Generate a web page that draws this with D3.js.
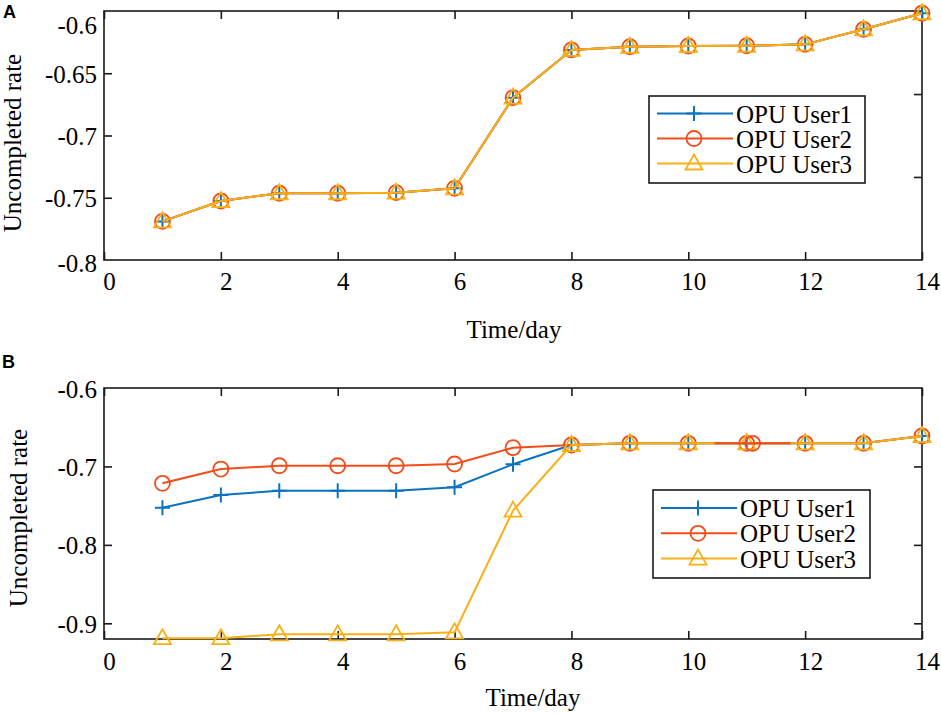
<!DOCTYPE html>
<html>
<head>
<meta charset="utf-8">
<script src="https://cdn.jsdelivr.net/npm/d3@7/dist/d3.min.js"></script>
<style>
  html, body { margin: 0; padding: 0; background: #fff; }
  svg { display: block; }
</style>
</head>
<body>
<svg id="chart" width="941" height="714"></svg>
<script>
// ---------------- DATA ----------------
const days = [1, 2, 3, 4, 5, 6, 7, 8, 9, 10, 11, 12, 13, 14];
const xTicks = [0, 2, 4, 6, 8, 10, 12, 14];
const seriesNames = ["OPU User1", "OPU User2", "OPU User3"];

// Panel A (all three users coincide)
const aUser1 = [-0.769, -0.7526, -0.7464, -0.7464, -0.7459, -0.7424, -0.6696, -0.6313, -0.6287, -0.6281, -0.6279, -0.6268, -0.6147, -0.6018];
const aUser2 = [-0.769, -0.7526, -0.7464, -0.7464, -0.7459, -0.7424, -0.6696, -0.6313, -0.6287, -0.6281, -0.6279, -0.6268, -0.6147, -0.6018];
const aUser3 = [-0.769, -0.7526, -0.7464, -0.7464, -0.7459, -0.7424, -0.6696, -0.6313, -0.6287, -0.6281, -0.6279, -0.6268, -0.6147, -0.6018];
const aYTicks = [-0.8, -0.75, -0.7, -0.65, -0.6];
const aYTickLabels = ["-0.8", "-0.75", "-0.7", "-0.65", "-0.6"];
const aRightTicks = [-0.7333, -0.6667];
const aYDomain = [-0.8, -0.6];

// Panel B
const bUser1 = [-0.7526, -0.7364, -0.7309, -0.7309, -0.7309, -0.7266, -0.6973, -0.6727, -0.6705, -0.6705, -0.6705, -0.6705, -0.6705, -0.6612];
const bUser2 = [-0.7215, -0.7033, -0.6991, -0.6991, -0.6991, -0.6969, -0.6761, -0.6727, -0.6705, -0.6705, -0.6705, -0.6705, -0.6705, -0.6612];
const bUser3 = [-0.919, -0.919, -0.914, -0.914, -0.914, -0.9115, -0.7564, -0.6727, -0.6705, -0.6705, -0.6705, -0.6705, -0.6705, -0.6612];
const bYTicks = [-0.9, -0.8, -0.7, -0.6];
const bYTickLabels = ["-0.9", "-0.8", "-0.7", "-0.6"];
const bYDomain = [-0.92, -0.6];
// overlapping red fragment visible near day 11 in panel B
const bUser2PatchDays = [10.45, 11.75];
const bUser2PatchValue = -0.6705;
const bUser2ExtraDay = 11.1;

// ---------------- STYLE ----------------
const colors = ["#0b72c0", "#f24c1a", "#f8b016"];
const markers = ["plus", "circle", "triangle"];
const FS = 25;
const SERIF = "'Liberation Serif', 'Times New Roman', serif";

const svg = d3.select("#chart");

function drawMarker(g, type, color) {
  if (type === "plus") {
    g.append("path").attr("d", "M-7.5,0H7.5M0,-7.5V7.5")
      .attr("stroke", color).attr("stroke-width", 2).attr("fill", "none");
  } else if (type === "circle") {
    g.append("circle").attr("r", 7.5)
      .attr("stroke", color).attr("stroke-width", 1.8).attr("fill", "none");
  } else {
    g.append("path").attr("d", "M0,-9L8.5,6L-8.5,6Z")
      .attr("stroke", color).attr("stroke-width", 1.8).attr("fill", "none")
      .attr("stroke-linejoin", "miter");
  }
}

function serifText(sel) {
  return sel.style("font-family", SERIF).style("font-size", FS + "px").style("fill", "#000");
}

function panel(cfg) {
  const x = d3.scaleLinear().domain([0, 14]).range([cfg.left, cfg.right]);
  const y = d3.scaleLinear().domain(cfg.yDomain).range([cfg.bottom, cfg.top]);
  const g = svg.append("g");

  // axes box
  g.append("rect")
    .attr("x", cfg.left).attr("y", cfg.top)
    .attr("width", cfg.right - cfg.left).attr("height", cfg.bottom - cfg.top)
    .attr("fill", "none").attr("stroke", "#1a1a1a").attr("stroke-width", 1.6);

  // bottom axis (inward ticks)
  const bx = g.append("g").attr("transform", `translate(0,${cfg.bottom})`)
    .call(d3.axisBottom(x).tickValues(xTicks).tickSize(-8).tickSizeOuter(0).tickFormat(d3.format("d")));
  bx.select(".domain").remove();
  bx.selectAll("line").attr("stroke", "#1a1a1a").attr("stroke-width", 1.6);
  serifText(bx.selectAll("text"))
    .attr("dy", null).attr("y", cfg.xLabelBaseline - cfg.bottom).attr("dx", 5);

  // top axis
  const tx = g.append("g").attr("transform", `translate(0,${cfg.top})`)
    .call(d3.axisTop(x).tickValues(xTicks).tickSize(-8).tickSizeOuter(0).tickFormat(""));
  tx.select(".domain").remove();
  tx.selectAll("line").attr("stroke", "#1a1a1a").attr("stroke-width", 1.6);

  // left axis
  const ly = g.append("g").attr("transform", `translate(${cfg.left},0)`)
    .call(d3.axisLeft(y).tickValues(cfg.yTicks).tickSize(-8).tickSizeOuter(0)
      .tickFormat((d, i) => cfg.yTickLabels[i]));
  ly.select(".domain").remove();
  ly.selectAll("line").attr("stroke", "#1a1a1a").attr("stroke-width", 1.6)
    .filter(d => d === cfg.yDomain[0] || d === cfg.yDomain[1]).remove();
  serifText(ly.selectAll("text"))
    .attr("x", -7).attr("dy", null)
    .attr("y", d => (cfg.labelShift && cfg.labelShift[d] ? cfg.labelShift[d] : 0) + 9);

  // right axis
  const ry = g.append("g").attr("transform", `translate(${cfg.right},0)`)
    .call(d3.axisRight(y).tickValues(cfg.rightTicks).tickSize(-8).tickSizeOuter(0).tickFormat(""));
  ry.select(".domain").remove();
  ry.selectAll("line").attr("stroke", "#1a1a1a").attr("stroke-width", 1.6);

  // series
  const line = d3.line().x((d, i) => x(days[i])).y(d => y(d));
  cfg.series.forEach((vals, si) => {
    g.append("path").datum(vals).attr("d", line)
      .attr("fill", "none").attr("stroke", colors[si]).attr("stroke-width", 2)
      .attr("stroke-linejoin", "round");
    vals.forEach((v, i) => {
      const mg = g.append("g").attr("transform", `translate(${x(days[i])},${y(v)})`);
      drawMarker(mg, markers[si], colors[si]);
    });
  });

  if (cfg.patch) cfg.patch(g, x, y);

  // legend
  const L = cfg.legend;
  g.append("rect").attr("x", L.x).attr("y", L.y).attr("width", L.w).attr("height", L.h)
    .attr("fill", "#fff").attr("stroke", "#1a1a1a").attr("stroke-width", 1.6);
  seriesNames.forEach((name, i) => {
    const cy = L.y + L.row0 + i * L.rowStep;
    g.append("line").attr("x1", L.x + 8).attr("x2", L.x + 84).attr("y1", cy).attr("y2", cy)
      .attr("stroke", colors[i]).attr("stroke-width", 2);
    const mg = g.append("g").attr("transform", `translate(${L.x + 45},${cy})`);
    drawMarker(mg, markers[i], colors[i]);
    serifText(g.append("text")).attr("x", L.x + 87).attr("y", cy + 9).text(name);
  });

  // axis titles
  serifText(g.append("text")).attr("text-anchor", "middle")
    .attr("x", cfg.xTitleX).attr("y", cfg.xTitleY).text("Time/day");
  serifText(g.append("text")).attr("text-anchor", "middle")
    .attr("transform", `translate(${cfg.yTitleX},${cfg.yTitleY}) rotate(-90)`)
    .text("Uncompleted rate");

  // panel letter
  svg.append("text").attr("x", cfg.letterX).attr("y", cfg.letterY)
    .style("font-family", "'Liberation Sans', Arial, sans-serif")
    .style("font-weight", "bold").style("font-size", "18px").style("fill", "#000")
    .text(cfg.letter);
}

panel({
  left: 104, right: 922, top: 11, bottom: 260,
  yDomain: aYDomain, yTicks: aYTicks, yTickLabels: aYTickLabels, rightTicks: aRightTicks,
  labelShift: { "-0.6": 13, "-0.8": 2 },
  xLabelBaseline: 290,
  series: [aUser1, aUser2, aUser3],
  legend: { x: 649, y: 96, w: 216, h: 87, row0: 17.5, rowStep: 25 },
  xTitleX: 514, xTitleY: 338,
  yTitleX: 21, yTitleY: 143,
  letter: "A", letterX: 3, letterY: 18
});

panel({
  left: 104, right: 922, top: 388, bottom: 639,
  yDomain: bYDomain, yTicks: bYTicks, yTickLabels: bYTickLabels, rightTicks: [-0.9, -0.8, -0.7],
  xLabelBaseline: 670,
  series: [bUser1, bUser2, bUser3],
  patch: (g, x, y) => {
    g.append("line")
      .attr("x1", x(bUser2PatchDays[0])).attr("x2", x(bUser2PatchDays[1]))
      .attr("y1", y(bUser2PatchValue)).attr("y2", y(bUser2PatchValue))
      .attr("stroke", colors[1]).attr("stroke-width", 2);
    const mg = g.append("g").attr("transform", `translate(${x(bUser2ExtraDay)},${y(bUser2PatchValue)})`);
    drawMarker(mg, "circle", colors[1]);
  },
  legend: { x: 653, y: 490, w: 217, h: 88, row0: 18, rowStep: 25.3 },
  xTitleX: 533, xTitleY: 706,
  yTitleX: 27, yTitleY: 518,
  letter: "B", letterX: 2, letterY: 368
});
</script>
</body>
</html>
